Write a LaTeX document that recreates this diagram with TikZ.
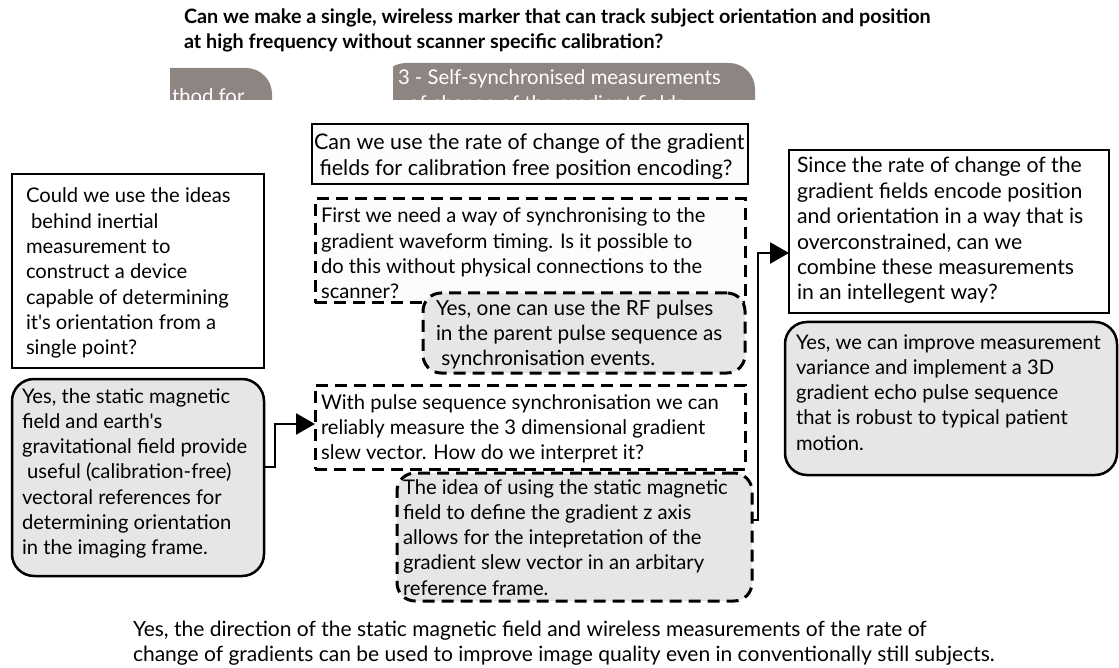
\documentclass[tikz,border=0pt]{standalone}
\usepackage{fontspec}
\setmainfont{Lato}[Ligatures=TeXOff]
\usetikzlibrary{arrows.meta}

% one printed line of a multi-line text block
\newcommand\tline[1]{\hbox{#1}}
% stacked lines whose base is the first baseline
\newcommand\textblock[1]{\vtop{#1}}

\definecolor{panelgrey}{HTML}{E6E6E6}
\definecolor{cream}{HTML}{FDFCFA}
\definecolor{tabgrey}{HTML}{8E8583}

\begin{document}
\begin{tikzpicture}[x=1pt,y=-1pt,
  every node/.style={inner sep=0pt,outer sep=0pt},
  plainbox/.style={draw=black,line width=2.5pt,fill=white,anchor=north west},
  dashbox/.style={draw=black,line width=3pt,dash pattern=on 12pt off 7pt,fill=white,anchor=north west},
  answerbox/.style={draw=black,line width=2.5pt,fill=panelgrey,rounded corners=22pt,anchor=north west},
  dashanswer/.style={draw=black,line width=3pt,dash pattern=on 12pt off 7pt,fill=panelgrey,rounded corners=18pt,anchor=north west},
  txt/.style={font=\fontsize{20.2pt}{25.3pt}\selectfont,anchor=base west,text=black},
  tabtxt/.style={font=\fontsize{20.3pt}{25.3pt}\selectfont,anchor=base west,text=white},
  conn/.style={draw=black,line width=2.5pt,-{Triangle[length=19pt,width=21pt]}}
]
\useasboundingbox (0,0) rectangle (1119,668);

% heading question
\node[txt,font=\fontsize{19.8pt}{25pt}\selectfont\bfseries] (title) at (184,24)
  {\textblock{\tline{Can we make a single, wireless marker that can track subject orientation and position}
  \tline{at high frequency without scanner specific calibration?}}};

% cut-off tabs under the heading
\begin{scope}
  \clip (170,55) rectangle (280,100);
  \fill[tabgrey,rounded corners=26pt] (100,68) -- (272,68) -- (272,140) -- (100,140) -- cycle;
  \node[tabtxt] (tabone) at (172,104) {thod for};
\end{scope}
\begin{scope}
  \clip (393,55) rectangle (760,100);
  \fill[tabgrey,rounded corners=26pt] (380,63) -- (755,63) -- (755,140) -- (380,140) -- cycle;
  \node[tabtxt] (tabtwo) at (398,85)
    {\textblock{\tline{3 - Self-synchronised measurements}\tline{\ \ of change of the gradient fields}}};
\end{scope}

% left column
\node[plainbox,minimum width=252pt,minimum height=194pt] (qA) at (12,174) {};
\node[txt] (tA) at (26,203) {\textblock{
  \tline{Could we use the ideas}
  \tline{\ behind inertial}
  \tline{measurement to}
  \tline{construct a device}
  \tline{capable of determining}
  \tline{it's orientation from a}
  \tline{single point?}}};

\node[answerbox,minimum width=252pt,minimum height=197pt] (qB) at (12,379) {};
\node[txt] (tB) at (22,403) {\textblock{
  \tline{Yes, the static magnetic}
  \tline{field and earth's}
  \tline{gravitational field provide}
  \tline{\ useful (calibration-free)}
  \tline{vectoral references for}
  \tline{determining orientation}
  \tline{in the imaging frame.}}};

% middle column
\node[plainbox,fill=cream,minimum width=436pt,minimum height=60pt] (qC) at (312,124) {};
\node[txt,font=\fontsize{21.5pt}{26pt}\selectfont] (tC) at (314,150) {\textblock{
  \tline{Can we use the rate of change of the gradient}
  \tline{\ fields for calibration free position encoding?}}};

\node[dashbox,fill=cream,minimum width=430pt,minimum height=104pt] (qD) at (315,199) {};
\node[txt] (tD) at (321,223) {\textblock{
  \tline{First we need a way of synchronising to the}
  \tline{gradient waveform timing. Is it possible to}
  \tline{do this without physical connections to the}
  \tline{scanner?}}};

\node[dashanswer,minimum width=322pt,minimum height=80pt] (qE) at (423,293) {};
\node[txt,font=\fontsize{20.8pt}{25pt}\selectfont] (tE) at (436,316) {\textblock{
  \tline{Yes, one can use the RF pulses}
  \tline{in the parent pulse sequence as}
  \tline{\ synchronisation events.}}};

\node[dashbox,minimum width=430pt,minimum height=84pt] (qF) at (315,385) {};
\node[txt] (tF) at (321,409) {\textblock{
  \tline{With pulse sequence synchronisation we can}
  \tline{reliably measure the 3 dimensional gradient}
  \tline{slew vector. How do we interpret it?}}};

\node[dashanswer,minimum width=355pt,minimum height=128pt] (qG) at (397,473) {};
\node[txt] (tG) at (403,494) {\textblock{
  \tline{The idea of using the static magnetic}
  \tline{field to define the gradient z axis}
  \tline{allows for the intepretation of the}
  \tline{gradient slew vector in an arbitary}
  \tline{reference frame.}}};

% right column
\node[plainbox,minimum width=320pt,minimum height=163pt] (qH) at (789,150) {};
\node[txt,font=\fontsize{21.2pt}{25.4pt}\selectfont] (tH) at (797,173) {\textblock{
  \tline{Since the rate of change of the}
  \tline{gradient fields encode position}
  \tline{and orientation in a way that is}
  \tline{overconstrained, can we}
  \tline{combine these measurements}
  \tline{in an intellegent way?}}};

\node[answerbox,minimum width=332pt,minimum height=153pt] (qI) at (785,322) {};
\node[txt] (tI) at (796,349) {\textblock{
  \tline{Yes, we can improve measurement}
  \tline{variance and implement a 3D}
  \tline{gradient echo pulse sequence}
  \tline{that is robust to typical patient}
  \tline{motion.}}};

% closing answer
\node[txt,font=\fontsize{21pt}{25pt}\selectfont] (final) at (133,636) {\textblock{
  \tline{Yes, the direction of the static magnetic field and wireless measurements of the rate of}
  \tline{change of gradients can be used to improve image quality even in conventionally still subjects.}}};

% connectors
\draw[conn] ([yshift=10.5pt]qB.east) -- ++(11,0) |- ([yshift=3pt]qF.west);
\draw[conn] ([yshift=17pt]qG.east) -- ++(6,0) |- ([yshift=-21.5pt]qH.west);
\end{tikzpicture}
\end{document}
